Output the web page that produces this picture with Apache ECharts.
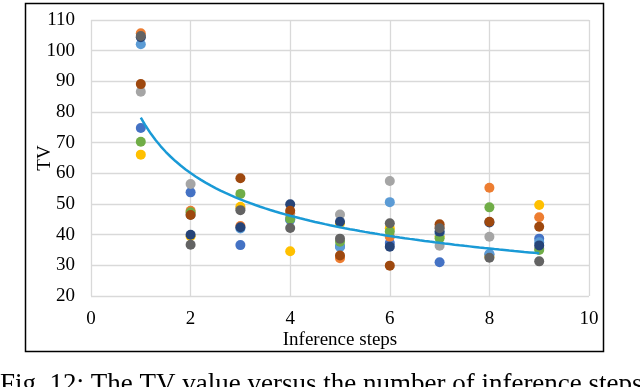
<!DOCTYPE html>
<html><head><meta charset="utf-8">
<script src="https://cdn.jsdelivr.net/npm/echarts@6/dist/echarts.min.js"></script>
<style>html,body{margin:0;padding:0;background:#fff;}#c{width:640px;height:387px;}</style>
</head><body><div id="c"></div>
<script>
const steps = [1,2,3,4,5,6,7,8,9];
const sBlue      = [74.8, 53.8, 36.6, 44.8, 36.2, 37.3, 31.0, 33.5, 38.7];
const sOrange    = [105.7, 47.8, 42.8, 47.0, 32.3, 39.3, 42.5, 55.3, 45.7];
const sGray      = [86.6, 56.5, 48.5, 45.8, 46.6, 57.5, 36.4, 39.3, 35.5];
const sYellow    = [66.1, 39.5, 49.1, 34.6, 43.7, 42.1, 39.5, 32.8, 49.7];
const sLightBlue = [102.1, 46.5, 42.0, 45.0, 36.0, 50.6, 40.5, 33.7, 37.5];
const sGreen     = [70.3, 47.3, 53.3, 45.1, 37.7, 41.0, 38.8, 48.9, 35.0];
const sDarkBlue  = [104.4, 40.0, 42.4, 49.9, 44.2, 36.1, 41.0, 44.0, 36.5];
const sBrown     = [89.1, 46.4, 58.4, 47.8, 33.2, 29.9, 43.4, 44.2, 42.6];
const sDarkGray  = [104.8, 36.7, 48.0, 42.2, 38.7, 43.7, 42.1, 32.5, 31.3];
const seriesList = [sBlue, sOrange, sGray, sYellow, sLightBlue, sGreen, sDarkBlue, sBrown, sDarkGray];
const colors = ['#4472C4','#ED7D31','#A5A5A5','#FFC000','#5B9BD5','#70AD47','#264478','#9E480E','#636363'];
// power trendline y = a * x^b (coefficients)
const trendA = 78.2;
const trendB = -0.38;
const trendRange = [1, 9];

const trend = [];
for (let k=0; k<=80; k++) { const x = trendRange[0] + k*(trendRange[1]-trendRange[0])/80; trend.push([x, trendA*Math.pow(x,trendB)]); }

const font = 'Liberation Serif, Times New Roman, serif';
const series = seriesList.map((s, j) => ({
  type:'scatter', symbolSize:10, itemStyle:{color:colors[j], opacity:1},
  data: s.map((v,i)=>[steps[i], v]), z:3
}));
series.push({type:'line', data:trend, showSymbol:false, smooth:false,
  lineStyle:{color:'#1A9AD6', width:2.5}, z:4});

const chart = echarts.init(document.getElementById('c'), null, {renderer:'canvas'});
chart.setOption({
  animation:false,
  grid:{left:91, right:51, top:20, bottom:91},
  xAxis:{type:'value', min:0, max:10, interval:2,
    axisLine:{show:false}, axisTick:{show:false},
    splitLine:{show:true, lineStyle:{color:'#D9D9D9', width:1.3}},
    axisLabel:{color:'#000', fontFamily:font, fontSize:19, margin:14},
    name:'Inference steps', nameLocation:'middle', nameGap:35, nameMoveOverlap:false,
    nameTextStyle:{color:'#000', fontFamily:font, fontSize:19}},
  yAxis:{type:'value', min:20, max:110, interval:10,
    axisLine:{show:false}, axisTick:{show:false},
    splitLine:{show:true, lineStyle:{color:'#D9D9D9', width:1.3}},
    axisLabel:{color:'#000', fontFamily:font, fontSize:19, margin:16},
    name:'TV', nameLocation:'middle', nameGap:36, nameRotate:90, nameMoveOverlap:false,
    nameTextStyle:{color:'#000', fontFamily:font, fontSize:19}},
  graphic:[
    {type:'rect', shape:{x:25.5, y:3.5, width:578, height:348}, style:{fill:null, stroke:'#000', lineWidth:1.5}, silent:true},
    {type:'text', left:0, top:371, style:{text:'Fig. 12: The TV value versus the number of inference steps', fontFamily:font, fontSize:27, fill:'#000'}}
  ],
  series: series
});
</script></body></html>
